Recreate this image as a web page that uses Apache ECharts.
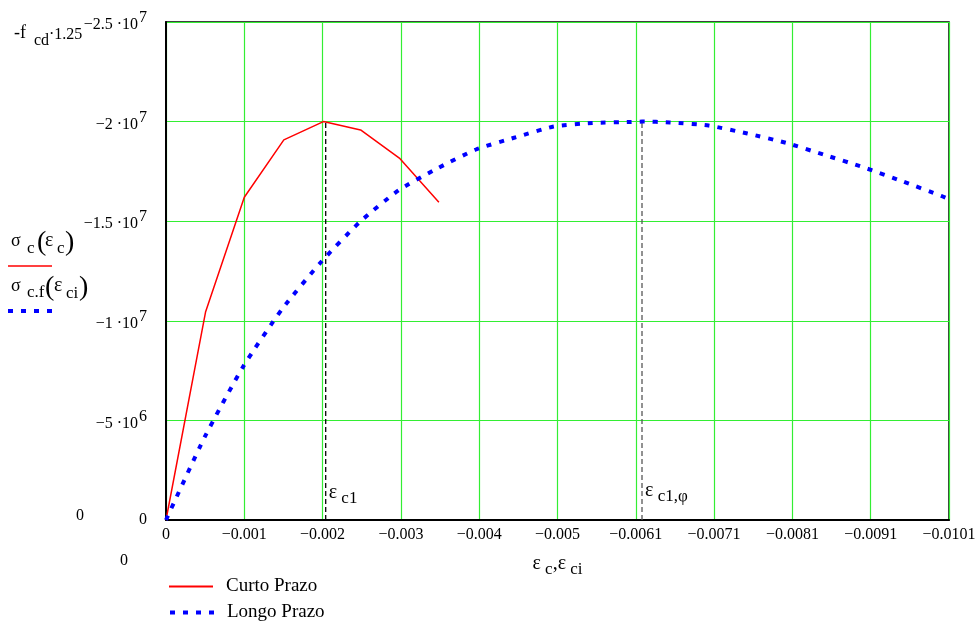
<!DOCTYPE html>
<html>
  <head>
    <meta charset="utf-8" />
    <title>ECharts</title>
    <script src="https://cdn.jsdelivr.net/npm/echarts@6/dist/echarts.min.js"></script>
    <style>
      html, body { margin: 0; padding: 0; background: #fff; }
    </style>
  </head>
  <body>
    <div id="main" style="width: 979px; height: 624px"></div>
  </body>

  <script>
    // curto prazo
    var epsC = [0, -0.00051, -0.00101, -0.00152, -0.00203, -0.00251, -0.00301, -0.00352];
    var sigC = [0, -1.044e7, -1.62e7, -1.908e7, -2.0e7, -1.958e7, -1.817e7, -1.595e7];
    // longo prazo
    var epsCi = [0, -0.0005, -0.001, -0.0015, -0.002, -0.0025, -0.003, -0.0035, -0.004, -0.0045,
      -0.005, -0.0055, -0.006, -0.00614, -0.0065, -0.007, -0.0075, -0.008, -0.0085, -0.009,
      -0.0095, -0.01, -0.0101];
    var sigCf = [0, -4.17e6, -7.73e6, -1.06e7, -1.295e7, -1.496e7, -1.655e7, -1.765e7, -1.86e7, -1.92e7,
      -1.975e7, -1.993e7, -1.998e7, -2.0e7, -1.996e7, -1.98e7, -1.94e7, -1.893e7, -1.832e7, -1.77e7,
      -1.70e7, -1.627e7, -1.61e7];
    // marcas eps_c1, eps_c1,phi
    var epsC1 = -0.00206;
    var epsC1phi = -0.00614;
    var sigPeak = -2.0e7;

    var xTickLabels = ["0", "\u22120.001", "\u22120.002", "\u22120.003", "\u22120.004", "\u22120.005",
      "\u22120.0061", "\u22120.0071", "\u22120.0081", "\u22120.0091", "\u22120.0101"];
    var yTickLabels = ["0", "{n|\u22125 \u00b710}{sup|6}", "{n|\u22121 \u00b710}{sup|7}",
      "{n|\u22121.5 \u00b710}{sup|7}", "{n|\u22122 \u00b710}{sup|7}", "{n|\u22122.5 \u00b710}{sup|7}"];

    var xStep = 0.00101;
    var yStep = 5e6;
    var serif = "'Liberation Serif', 'Times New Roman', serif";

    function pairs(xs, ys) {
      return xs.map(function (x, i) { return [x, ys[i]]; });
    }

    var subRich = {
      e: { fontFamily: serif, fontSize: 20, color: "#000", padding: [0, 0, 6, 0] },
      s: { fontFamily: serif, fontSize: 17, color: "#000", padding: [6, 0, 0, 0] },
    };

    var legendBase = {
      left: 163,
      itemWidth: 44,
      itemHeight: 12,
      itemStyle: { opacity: 0 },
      textStyle: { fontFamily: serif, fontSize: 19, color: "#000", padding: [0, 0, 0, 8] },
    };

    var myChart = echarts.init(document.getElementById("main"));

    option = {
      backgroundColor: "#fff",
      animation: false,
      textStyle: { fontFamily: serif },
      grid: {
        left: 166,
        right: 30,
        top: 22,
        bottom: 104,
        show: true,
        borderColor: "#000",
        borderWidth: 1.5,
      },
      legend: [
        Object.assign({}, legendBase, { top: 572, data: ["Curto Prazo"] }),
        Object.assign({}, legendBase, { top: 598, data: ["Longo Prazo"], lineStyle: { width: 4 } }),
      ],
      xAxis: {
        type: "value",
        inverse: true,
        min: -0.0101,
        max: 0,
        interval: xStep,
        name: "{e|\u03b5}{s| c}{e|,\u03b5}{s| ci}",
        nameLocation: "middle",
        nameGap: 34,
        nameTextStyle: { rich: subRich },
        axisLine: { show: true, lineStyle: { color: "#000", width: 2 } },
        axisTick: { show: false },
        splitLine: { show: true, lineStyle: { color: "#33ee33", width: 1.2 } },
        axisLabel: {
          margin: 7,
          fontFamily: serif,
          fontSize: 16,
          color: "#000",
          formatter: function (v) {
            return xTickLabels[Math.round(-v / xStep)];
          },
        },
      },
      yAxis: {
        type: "value",
        inverse: true,
        min: -2.5e7,
        max: 0,
        interval: yStep,
        axisLine: { show: true, lineStyle: { color: "#000", width: 2 } },
        axisTick: { show: false },
        splitLine: { show: true, lineStyle: { color: "#33ee33", width: 1.2 } },
        axisLabel: {
          margin: 19,
          color: "#000",
          formatter: function (v) {
            return yTickLabels[Math.round(-v / yStep)];
          },
          rich: {
            n: { fontFamily: serif, fontSize: 16, color: "#000", padding: [6, 0, 0, 0] },
            sup: { fontFamily: serif, fontSize: 16, color: "#000", padding: [0, 0, 8, 1] },
          },
          fontFamily: serif,
          fontSize: 16,
        },
      },
      graphic: [
        // rotulos estilo Mathcad
        { type: "text", left: 14, top: 24, style: { text: "-f", font: "18px " + serif, fill: "#000" } },
        { type: "text", left: 34, top: 33, style: { text: "cd", font: "16px " + serif, fill: "#000" } },
        { type: "text", left: 49, top: 27, style: { text: "\u00b71.25", font: "16px " + serif, fill: "#000" } },
        { type: "text", left: 76, top: 508, style: { text: "0", font: "16px " + serif, fill: "#000" } },
        { type: "text", left: 120, top: 553, style: { text: "0", font: "16px " + serif, fill: "#000" } },
        // legenda esquerda
        { type: "text", left: 11, top: 232, style: { text: "\u03c3", font: "18px " + serif, fill: "#000" } },
        { type: "text", left: 27, top: 240, style: { text: "c", font: "17px " + serif, fill: "#000" } },
        { type: "text", left: 37, top: 229, style: { text: "(", font: "28px " + serif, fill: "#000" } },
        { type: "text", left: 45, top: 231, style: { text: "\u03b5", font: "20px " + serif, fill: "#000" } },
        { type: "text", left: 57, top: 240, style: { text: "c", font: "17px " + serif, fill: "#000" } },
        { type: "text", left: 65, top: 229, style: { text: ")", font: "28px " + serif, fill: "#000" } },
        { type: "line", shape: { x1: 8, y1: 266, x2: 52, y2: 266 }, style: { stroke: "#ff0000", lineWidth: 1.5 } },
        { type: "text", left: 11, top: 277, style: { text: "\u03c3", font: "18px " + serif, fill: "#000" } },
        { type: "text", left: 27, top: 284, style: { text: "c.f", font: "17px " + serif, fill: "#000" } },
        { type: "text", left: 45, top: 274, style: { text: "(", font: "28px " + serif, fill: "#000" } },
        { type: "text", left: 54, top: 276, style: { text: "\u03b5", font: "20px " + serif, fill: "#000" } },
        { type: "text", left: 66, top: 285, style: { text: "ci", font: "17px " + serif, fill: "#000" } },
        { type: "text", left: 79, top: 274, style: { text: ")", font: "28px " + serif, fill: "#000" } },
        { type: "line", shape: { x1: 8, y1: 311, x2: 52, y2: 311 }, style: { stroke: "#0000ff", lineWidth: 4, lineDash: [5, 8] } },
      ],
      series: [
        {
          name: "Curto Prazo",
          type: "line",
          data: pairs(epsC, sigC),
          symbol: "none",
          lineStyle: { color: "#ff0000", width: 1.5 },
          itemStyle: { color: "#ff0000" },
          z: 3,
        },
        {
          name: "Longo Prazo",
          type: "line",
          data: pairs(epsCi, sigCf),
          symbol: "none",
          smooth: 0.2,
          lineStyle: { color: "#0000ff", width: 4, type: [5, 8] },
          itemStyle: { color: "#0000ff" },
          z: 4,
        },
        {
          name: "eps_c1",
          type: "line",
          symbol: "circle",
          symbolSize: 0,
          showSymbol: true,
          silent: true,
          lineStyle: { color: "#000", width: 1.3, type: [5, 3] },
          data: [
            {
              value: [epsC1, 0],
              label: {
                show: true,
                position: "right",
                offset: [-2, -24],
                formatter: "{e|\u03b5}{s| c1}",
                rich: subRich,
              },
            },
            [epsC1, sigPeak],
          ],
          z: 2,
        },
        {
          name: "eps_c1phi",
          type: "line",
          symbol: "circle",
          symbolSize: 0,
          showSymbol: true,
          silent: true,
          lineStyle: { color: "#555", width: 1.3, type: [5, 3] },
          data: [
            {
              value: [epsC1phi, 0],
              label: {
                show: true,
                position: "right",
                offset: [-2, -26],
                formatter: "{e|\u03b5}{s| c1,\u03c6}",
                rich: subRich,
              },
            },
            [epsC1phi, sigPeak],
          ],
          z: 2,
        },
      ],
    };

    myChart.setOption(option);
  </script>
</html>
